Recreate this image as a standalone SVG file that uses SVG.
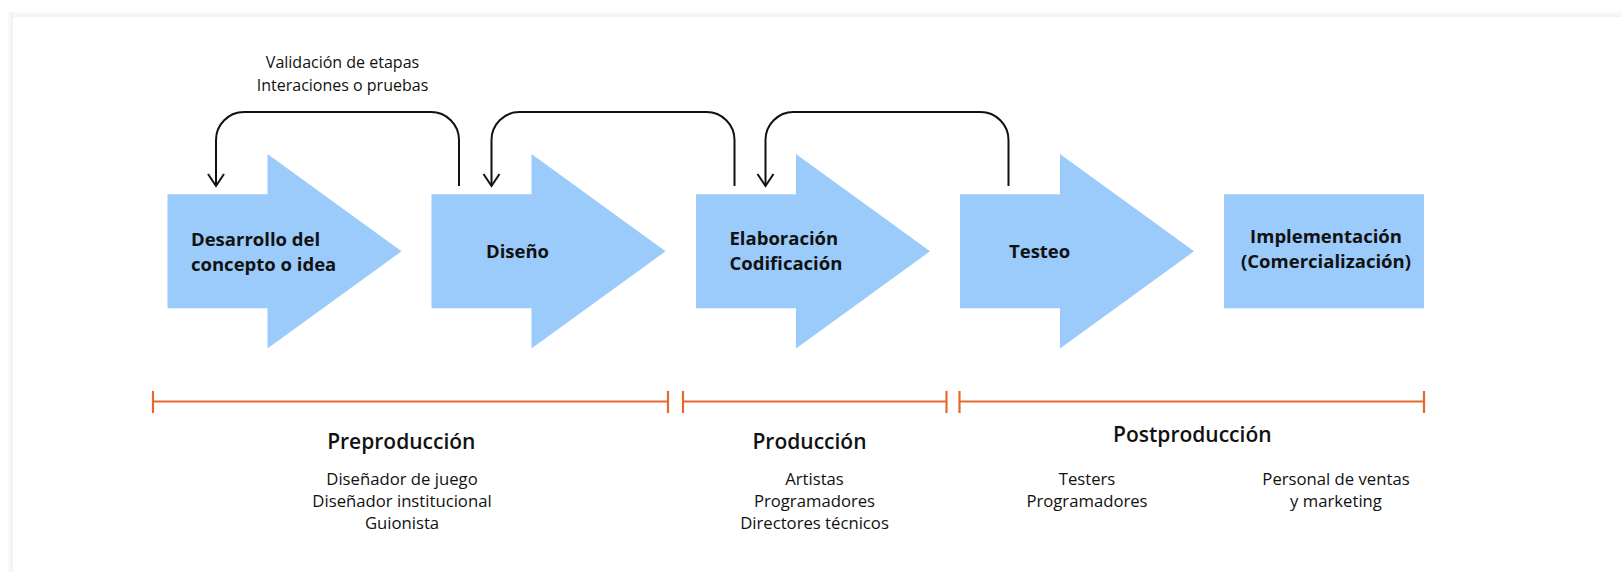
<svg xmlns="http://www.w3.org/2000/svg" width="1621" height="572" viewBox="0 0 1621 572">
  <style>
    .stage { fill: #9bcbfa; }
    .lbl { font-family: "Open Sans", "Liberation Sans", sans-serif; font-weight: 700; font-size: 18.5px; fill: #111; }
    .head { font-family: "Open Sans", "Liberation Sans", sans-serif; font-weight: 600; font-size: 21px; fill: #111; text-anchor: middle; }
    .sub { font-family: "Open Sans", "Liberation Sans", sans-serif; font-weight: 400; font-size: 16.7px; fill: #111; text-anchor: middle; }
    .note { font-family: "Open Sans", "Liberation Sans", sans-serif; font-weight: 400; font-size: 16px; fill: #111; text-anchor: middle; }
    .loop { fill: none; stroke: #111; stroke-width: 2; }
    .phase { fill: none; stroke: #e5682f; stroke-width: 2.2; }
  </style>
  <defs>
    <marker id="chev" viewBox="-14 -10 16 20" refX="0" refY="0" markerWidth="16" markerHeight="20" markerUnits="userSpaceOnUse" orient="auto">
      <path d="M -12 -8 L 0 0 L -12 8" fill="none" stroke="#111" stroke-width="2"/>
    </marker>
    <linearGradient id="shTop" x1="0" y1="0" x2="0" y2="1">
      <stop offset="0" stop-color="#fbfbfb"/>
      <stop offset="1" stop-color="#f1f1f1"/>
    </linearGradient>
    <linearGradient id="shLeft" x1="0" y1="0" x2="1" y2="0">
      <stop offset="0" stop-color="#fbfbfb"/>
      <stop offset="1" stop-color="#f1f1f1"/>
    </linearGradient>
  </defs>

  <rect x="0" y="0" width="1621" height="572" fill="#ffffff"/>
  <rect x="8" y="12" width="1613" height="5" fill="url(#shTop)"/>
  <rect x="8" y="12" width="5" height="560" fill="url(#shLeft)"/>
  <rect x="13" y="17" width="1608" height="555" fill="#ffffff"/>

  <text class="note" x="342.5" y="68">Validación de etapas</text>
  <text class="note" x="342.5" y="90.5">Interaciones o pruebas</text>

  <g id="node-desarrollo">
    <polygon class="stage" points="167.5,194.3 267.5,194.3 267.5,154 401.5,251.3 267.5,348.5 267.5,308.3 167.5,308.3"/>
    <text class="lbl" x="191" y="246">Desarrollo del</text>
    <text class="lbl" x="191" y="270.5">concepto o idea</text>
  </g>
  <g id="node-diseno">
    <polygon class="stage" points="431.5,194.3 531.5,194.3 531.5,154 665.5,251.3 531.5,348.5 531.5,308.3 431.5,308.3"/>
    <text class="lbl" x="486" y="258">Diseño</text>
  </g>
  <g id="node-elaboracion">
    <polygon class="stage" points="696,194.3 796,194.3 796,154 930,251.3 796,348.5 796,308.3 696,308.3"/>
    <text class="lbl" x="729.5" y="245">Elaboración</text>
    <text class="lbl" x="729.5" y="269.5">Codificación</text>
  </g>
  <g id="node-testeo">
    <polygon class="stage" points="960,194.3 1060,194.3 1060,154 1194,251.3 1060,348.5 1060,308.3 960,308.3"/>
    <text class="lbl" x="1009" y="257.5">Testeo</text>
  </g>
  <g id="node-implementacion">
    <rect class="stage" x="1224" y="194.3" width="200" height="114"/>
    <text class="lbl" x="1326" y="242.5" text-anchor="middle">Implementación</text>
    <text class="lbl" x="1326" y="268" text-anchor="middle">(Comercialización)</text>
  </g>

  <g id="connectors">
    <path class="loop" d="M459,186 V140 A28,28 0 0 0 431,112 H244 A28,28 0 0 0 216,140 V186" marker-end="url(#chev)"/>
    <path class="loop" d="M734.5,186 V140 A28,28 0 0 0 706.5,112 H519.5 A28,28 0 0 0 491.5,140 V186" marker-end="url(#chev)"/>
    <path class="loop" d="M1008.5,186 V140 A28,28 0 0 0 980.5,112 H793.5 A28,28 0 0 0 765.5,140 V186" marker-end="url(#chev)"/>
  </g>

  <g id="phase-preproduccion">
    <path class="phase" d="M153,401.5 H668 M153,391 V413 M668,391 V413"/>
    <text class="head" x="401.3" y="449">Preproducción</text>
    <text class="sub" x="402" y="485">Diseñador de juego</text>
    <text class="sub" x="402" y="507">Diseñador institucional</text>
    <text class="sub" x="402" y="529">Guionista</text>
  </g>
  <g id="phase-produccion">
    <path class="phase" d="M683,401.5 H946.5 M683,391 V413 M946.5,391 V413"/>
    <text class="head" x="809.5" y="449">Producción</text>
    <text class="sub" x="814.5" y="485">Artistas</text>
    <text class="sub" x="814.5" y="507">Programadores</text>
    <text class="sub" x="814.5" y="529">Directores técnicos</text>
  </g>
  <g id="phase-postproduccion">
    <path class="phase" d="M959.5,401.5 H1424 M959.5,391 V413 M1424,391 V413"/>
    <text class="head" x="1192.3" y="442">Postproducción</text>
    <text class="sub" x="1087" y="485">Testers</text>
    <text class="sub" x="1087" y="507">Programadores</text>
    <text class="sub" x="1336" y="485">Personal de ventas</text>
    <text class="sub" x="1336" y="507">y marketing</text>
  </g>
</svg>
